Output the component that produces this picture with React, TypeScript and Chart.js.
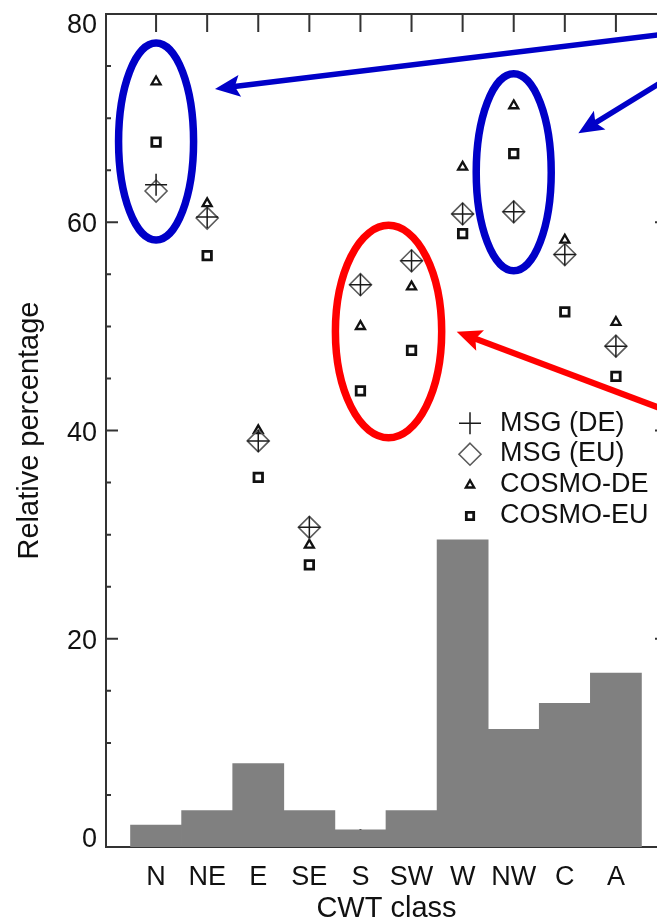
import React, { useEffect, useRef } from 'react';
import { Chart, registerables } from 'chart.js';

Chart.register(...registerables);

// ---------- data ----------
const categories = ['N', 'NE', 'E', 'SE', 'S', 'SW', 'W', 'NW', 'C', 'A'];
const cwtFrequency = [2.1, 3.5, 8.0, 3.5, 1.65, 3.5, 29.5, 11.3, 13.8, 16.7];
const msgDE = [63.6, 60.5, 39.0, 30.7, 54.0, 56.3, 60.8, 61.0, 56.9, 48.1];
const msgEU = [63.0, 60.4, 39.0, 30.7, 54.0, 56.3, 60.8, 61.0, 56.9, 48.1];
const cosmoDE = [73.5, 61.8, 40.0, 29.0, 50.0, 53.8, 65.3, 71.2, 58.3, 50.4];
const cosmoEU = [67.7, 56.8, 35.5, 27.1, 43.8, 47.7, 58.9, 66.6, 51.4, 45.2];
const yTicks = [0, 20, 40, 60, 80];

// annotation overlays (data coordinates: x = class index, y = percentage)
const BLUE = '#0000c8';
const RED = '#ff0000';
const ellipses = [
  { x: 0, y: 67.75, rx: 0.734, ry: 9.46, color: BLUE },
  { x: 7.0, y: 64.8, rx: 0.734, ry: 9.46, color: BLUE },
  { x: 4.55, y: 49.5, rx: 1.04, ry: 10.2, color: RED },
];
const arrows = [
  { from: [10.45, 78.37], to: [1.153, 72.8], color: BLUE, width: 5.5 },
  { from: [10.646, 75.73], to: [8.265, 68.54], color: BLUE, width: 5.5 },
  { from: [10.646, 40.7], to: [5.884, 49.49], color: RED, width: 6.2 },
];

const FONT = '"Liberation Sans", Arial, Helvetica, sans-serif';
const AXIS = '#333333';
const TEXT = '#111111';

const legendRadius: Record<string, number> = { cross: 11, rectRot: 11, triangle: 4.8, rect: 5.2 };

function drawMarker(ctx: CanvasRenderingContext2D, style: string, x: number, y: number, r: number, lw: number, stroke: string, fill: string) {
  ctx.save();
  ctx.lineWidth = lw;
  ctx.strokeStyle = stroke;
  ctx.fillStyle = fill;
  ctx.beginPath();
  if (style === 'cross') {
    ctx.moveTo(x - r, y); ctx.lineTo(x + r, y);
    ctx.moveTo(x, y - r); ctx.lineTo(x, y + r);
    ctx.stroke();
  } else if (style === 'rectRot') {
    ctx.moveTo(x, y - r); ctx.lineTo(x + r, y); ctx.lineTo(x, y + r); ctx.lineTo(x - r, y);
    ctx.closePath();
    ctx.stroke();
  } else if (style === 'triangle') {
    ctx.moveTo(x, y - r);
    ctx.lineTo(x + r * Math.sin(Math.PI / 3), y + r / 2);
    ctx.lineTo(x - r * Math.sin(Math.PI / 3), y + r / 2);
    ctx.closePath();
    ctx.fill(); ctx.stroke();
  } else {
    const s = r * Math.SQRT1_2;
    ctx.rect(x - s, y - s, 2 * s, 2 * s);
    ctx.fill(); ctx.stroke();
  }
  ctx.restore();
}

function drawArrow(ctx: CanvasRenderingContext2D, x1: number, y1: number, x2: number, y2: number, color: string, shaft: number) {
  const headLen = 25, headHalf = 11;
  const dx = x2 - x1, dy = y2 - y1;
  const L = Math.hypot(dx, dy);
  const ux = dx / L, uy = dy / L, nx = -uy, ny = ux;
  ctx.save();
  ctx.strokeStyle = color; ctx.fillStyle = color; ctx.lineWidth = shaft; ctx.lineCap = 'butt';
  ctx.beginPath();
  ctx.moveTo(x1, y1);
  ctx.lineTo(x2 - ux * headLen * 0.7, y2 - uy * headLen * 0.7);
  ctx.stroke();
  ctx.beginPath();
  ctx.moveTo(x2, y2);
  ctx.lineTo(x2 - ux * headLen + nx * headHalf, y2 - uy * headLen + ny * headHalf);
  ctx.lineTo(x2 - ux * headLen * 0.8, y2 - uy * headLen * 0.8);
  ctx.lineTo(x2 - ux * headLen - nx * headHalf, y2 - uy * headLen - ny * headHalf);
  ctx.closePath();
  ctx.fill();
  ctx.restore();
}

const framePlugin = {
  id: 'frame',
  beforeDatasetsDraw(chart: any) {
    const { ctx, chartArea: a, scales } = chart;
    const x = scales.x, y = scales.y;
    ctx.save();
    ctx.strokeStyle = AXIS;
    ctx.lineWidth = 2;
    ctx.beginPath();
    y.ticks.forEach((t: any, i: number) => {
      const py = y.getPixelForValue(t.value);
      ctx.moveTo(a.left, py); ctx.lineTo(a.left + 12, py);
      ctx.moveTo(a.right, py); ctx.lineTo(a.right - 12, py);
      if (i < y.ticks.length - 1) {
        const step = (y.ticks[i + 1].value - t.value) / 4;
        for (let k = 1; k < 4; k++) {
          const pm = y.getPixelForValue(t.value + k * step);
          ctx.moveTo(a.left, pm); ctx.lineTo(a.left + 5, pm);
          ctx.moveTo(a.right, pm); ctx.lineTo(a.right - 5, pm);
        }
      }
    });
    x.ticks.forEach((t: any) => {
      const px = x.getPixelForValue(t.value);
      ctx.moveTo(px, a.top); ctx.lineTo(px, a.top + 18);
      ctx.moveTo(px, a.bottom); ctx.lineTo(px, a.bottom - 18);
    });
    ctx.stroke();
    ctx.strokeRect(a.left, a.top, a.right - a.left, a.bottom - a.top);
    ctx.restore();
  },
  afterDraw(chart: any) {
    const { ctx, chartArea: a, scales } = chart;
    const x = scales.x, y = scales.y;
    ctx.save();
    // y tick labels (first/last kept inside the axis extent)
    ctx.font = `27px ${FONT}`;
    ctx.fillStyle = TEXT;
    ctx.textAlign = 'right';
    ctx.textBaseline = 'alphabetic';
    const cap = 0.716 * 27;
    y.ticks.forEach((t: any, i: number) => {
      const py = y.getPixelForValue(t.value);
      let base = py + cap / 2 + 0.5;
      if (i === 0) base = py;
      else if (i === y.ticks.length - 1) base = py + cap;
      ctx.fillText(String(t.value), a.left - 9, base);
    });

    // legend
    const scatterSets = chart.data.datasets.filter((d: any) => d.type === 'scatter');
    ctx.font = `27px ${FONT}`;
    ctx.textAlign = 'left';
    scatterSets.forEach((d: any, i: number) => {
      const my = 423.3 + 30.9 * i;
      drawMarker(ctx, d.pointStyle, 470, my, legendRadius[d.pointStyle], d.pointBorderWidth, d.pointBorderColor, d.pointBackgroundColor);
      ctx.fillStyle = TEXT;
      ctx.fillText(d.label, 500, 430.5 + 30.8 * i);
    });

    // overlays
    const unitX = x.getPixelForValue(1) - x.getPixelForValue(0);
    const unitY = y.getPixelForValue(0) - y.getPixelForValue(1);
    ellipses.forEach((e) => {
      ctx.beginPath();
      ctx.strokeStyle = e.color;
      ctx.lineWidth = 7.5;
      ctx.ellipse(x.getPixelForValue(e.x), y.getPixelForValue(e.y), e.rx * unitX, e.ry * unitY, 0, 0, Math.PI * 2);
      ctx.stroke();
    });
    arrows.forEach((r) => {
      drawArrow(ctx,
        x.getPixelForValue(r.from[0]), y.getPixelForValue(r.from[1]),
        x.getPixelForValue(r.to[0]), y.getPixelForValue(r.to[1]),
        r.color, r.width);
    });
    ctx.restore();
  },
};

export default function App() {
  const ref = useRef<HTMLCanvasElement | null>(null);

  useEffect(() => {
    if (!ref.current) return;
    const pts = (arr: number[]) => arr.map((v, i) => ({ x: i, y: v }));
    const chart = new Chart(ref.current, {
      type: 'bar',
      data: {
        datasets: [
          {
            type: 'scatter', label: 'MSG (DE)', data: pts(msgDE), order: 1,
            pointStyle: 'cross', pointRadius: 11, pointBorderWidth: 1.5,
            pointBorderColor: '#1a1a1a', pointBackgroundColor: 'rgba(0,0,0,0)', showLine: false,
          },
          {
            type: 'scatter', label: 'MSG (EU)', data: pts(msgEU), order: 2,
            pointStyle: 'rectRot', pointRadius: 11, pointBorderWidth: 1.6,
            pointBorderColor: '#5a5a5a', pointBackgroundColor: 'rgba(0,0,0,0)', showLine: false,
          },
          {
            type: 'scatter', label: 'COSMO-DE', data: pts(cosmoDE), order: 3,
            pointStyle: 'triangle', pointRadius: 5.2, pointBorderWidth: 2.3,
            pointBorderColor: '#111111', pointBackgroundColor: '#ffffff', showLine: false,
          },
          {
            type: 'scatter', label: 'COSMO-EU', data: pts(cosmoEU), order: 4,
            pointStyle: 'rect', pointRadius: 6, pointBorderWidth: 2.8,
            pointBorderColor: '#111111', pointBackgroundColor: '#ffffff', showLine: false,
          },
          {
            type: 'bar', label: 'CWT frequency', data: pts(cwtFrequency), order: 10,
            backgroundColor: '#808080', borderWidth: 0,
            barPercentage: 1, categoryPercentage: 1,
          },
        ] as any,
      },
      options: {
        animation: false,
        responsive: false,
        devicePixelRatio: 1,
        events: [],
        layout: { padding: { top: 14, right: 13, left: 0, bottom: 0 } },
        plugins: { legend: { display: false }, tooltip: { enabled: false } },
        scales: {
          x: {
            type: 'linear', min: -0.98, max: 10, offset: false,
            grid: { display: false, drawTicks: false },
            border: { display: false },
            afterBuildTicks: (s: any) => { s.ticks = categories.map((_, i) => ({ value: i })); },
            ticks: {
              autoSkip: false, maxRotation: 0, minRotation: 0, padding: 17, color: TEXT,
              font: { family: FONT, size: 27, lineHeight: 1 },
              callback: (v: any) => categories[v] ?? '',
            },
            title: {
              display: true, text: 'CWT class', color: TEXT,
              font: { family: FONT, size: 29, lineHeight: 0.9 }, padding: { top: 0, bottom: 0 },
            },
            afterFit: (s: any) => { s.height = 75; },
          },
          y: {
            type: 'linear', min: 0, max: 80,
            afterBuildTicks: (s: any) => { s.ticks = yTicks.map((v) => ({ value: v })); },
            ticks: { display: false, stepSize: 20 },
            grid: { display: false, drawTicks: false },
            border: { display: false },
            title: {
              display: true, text: 'Relative percentage', color: TEXT,
              font: { family: FONT, size: 29, lineHeight: 1 }, padding: { top: 15.5, bottom: 0 },
            },
            afterFit: (s: any) => { s.width = 106; },
          },
        },
      } as any,
      plugins: [framePlugin],
    });
    return () => chart.destroy();
  }, []);

  return (
    <div style={{ position: 'fixed', left: 0, top: 0, width: 657, height: 922, overflow: 'hidden', background: '#ffffff' }}>
      <canvas ref={ref} width={680} height={922} style={{ display: 'block' }} />
    </div>
  );
}
